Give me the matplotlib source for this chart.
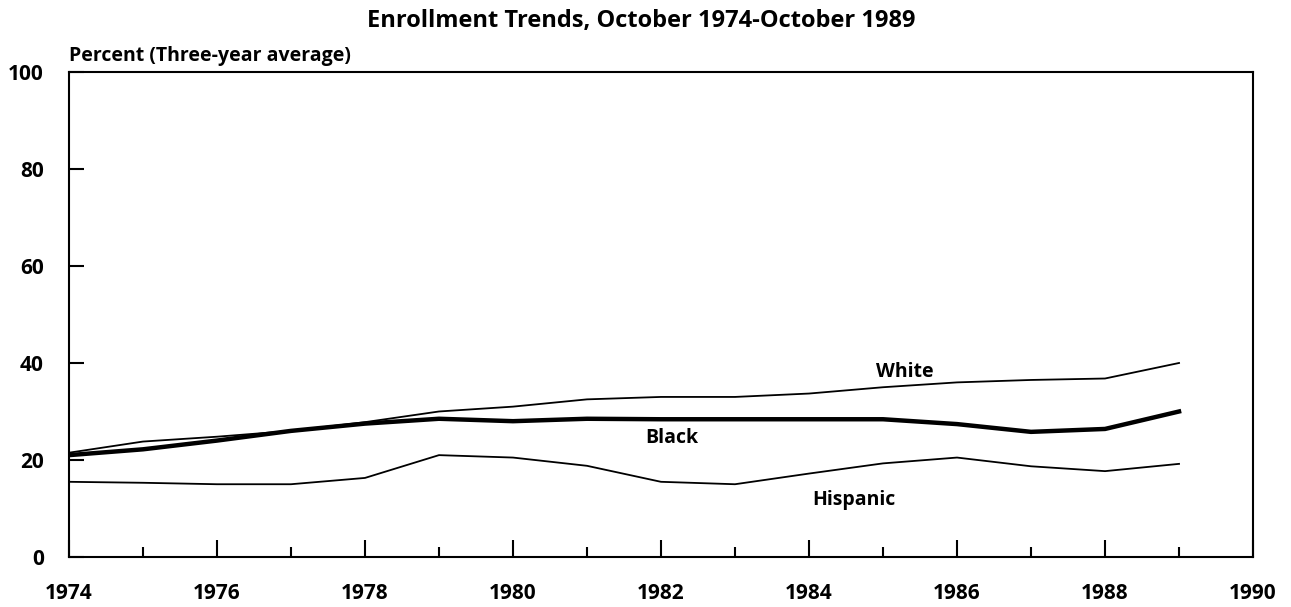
'''
    Enrollment trends by race/ethnicity, 1974-1989
'''
import numpy as np
import matplotlib.pyplot as plt
from matplotlib.ticker import MultipleLocator

plt.rcParams['font.family'] = ['Open Sans', 'DejaVu Sans']
plt.rcParams['font.weight'] = 'bold'

# Years (October of each year)
years = [1974, 1975, 1976, 1977, 1978, 1979, 1980, 1981,
         1982, 1983, 1984, 1985, 1986, 1987, 1988, 1989]

# Percent enrolled, three-year average
white = [21.5, 23.8, 24.8, 26.0, 27.8, 30.0, 31.0, 32.5,
         33.0, 33.0, 33.7, 35.0, 36.0, 36.5, 36.8, 40.0]
black = [21.0, 22.2, 24.0, 26.0, 27.5, 28.5, 28.0, 28.5,
         28.4, 28.4, 28.4, 28.4, 27.4, 25.8, 26.4, 30.0]
hispanic = [15.5, 15.3, 15.0, 15.0, 16.3, 21.0, 20.5, 18.8,
            15.5, 15.0, 17.2, 19.3, 20.5, 18.7, 17.7, 19.2]

xticks = [1974, 1976, 1978, 1980, 1982, 1984, 1986, 1988, 1990]
yticks = [0, 20, 40, 60, 80, 100]

fig = plt.figure(figsize=(12.91, 6.07), dpi=100)
ax = fig.add_axes([0.0534, 0.0824, 0.9172, 0.799])

ax.plot(years, white, color='black', lw=1.3)
ax.plot(years, black, color='black', lw=3.2)
ax.plot(years, hispanic, color='black', lw=1.3)

ax.set_xlim(1974, 1990)
ax.set_ylim(0, 100)
ax.set_xticks(xticks)
ax.set_xticklabels([str(y) for y in xticks])
ax.xaxis.set_minor_locator(MultipleLocator(1))
ax.set_yticks(yticks)

ax.tick_params(axis='x', which='major', direction='in', length=12, width=1.5,
               pad=19, labelsize=15)
ax.tick_params(axis='x', which='minor', direction='in', length=7, width=1.5)
ax.tick_params(axis='y', direction='in', length=11, width=1.5,
               pad=18, labelsize=15)
for s in ax.spines.values():
    s.set_linewidth(1.5)

# series labels
ax.text(1985.3, 38.1, 'White', ha='center', va='center', fontsize=14)
ax.text(1982.15, 24.6, 'Black', ha='center', va='center', fontsize=14)
ax.text(1984.6, 11.8, 'Hispanic', ha='center', va='center', fontsize=14)

ax.text(0, 1.012, 'Percent (Three-year average)', transform=ax.transAxes,
        ha='left', va='bottom', fontsize=14)
fig.text(0.497, 0.965, 'Enrollment Trends, October 1974-October 1989',
         ha='center', va='center', fontsize=17)

plt.savefig('out.png', dpi=100)
